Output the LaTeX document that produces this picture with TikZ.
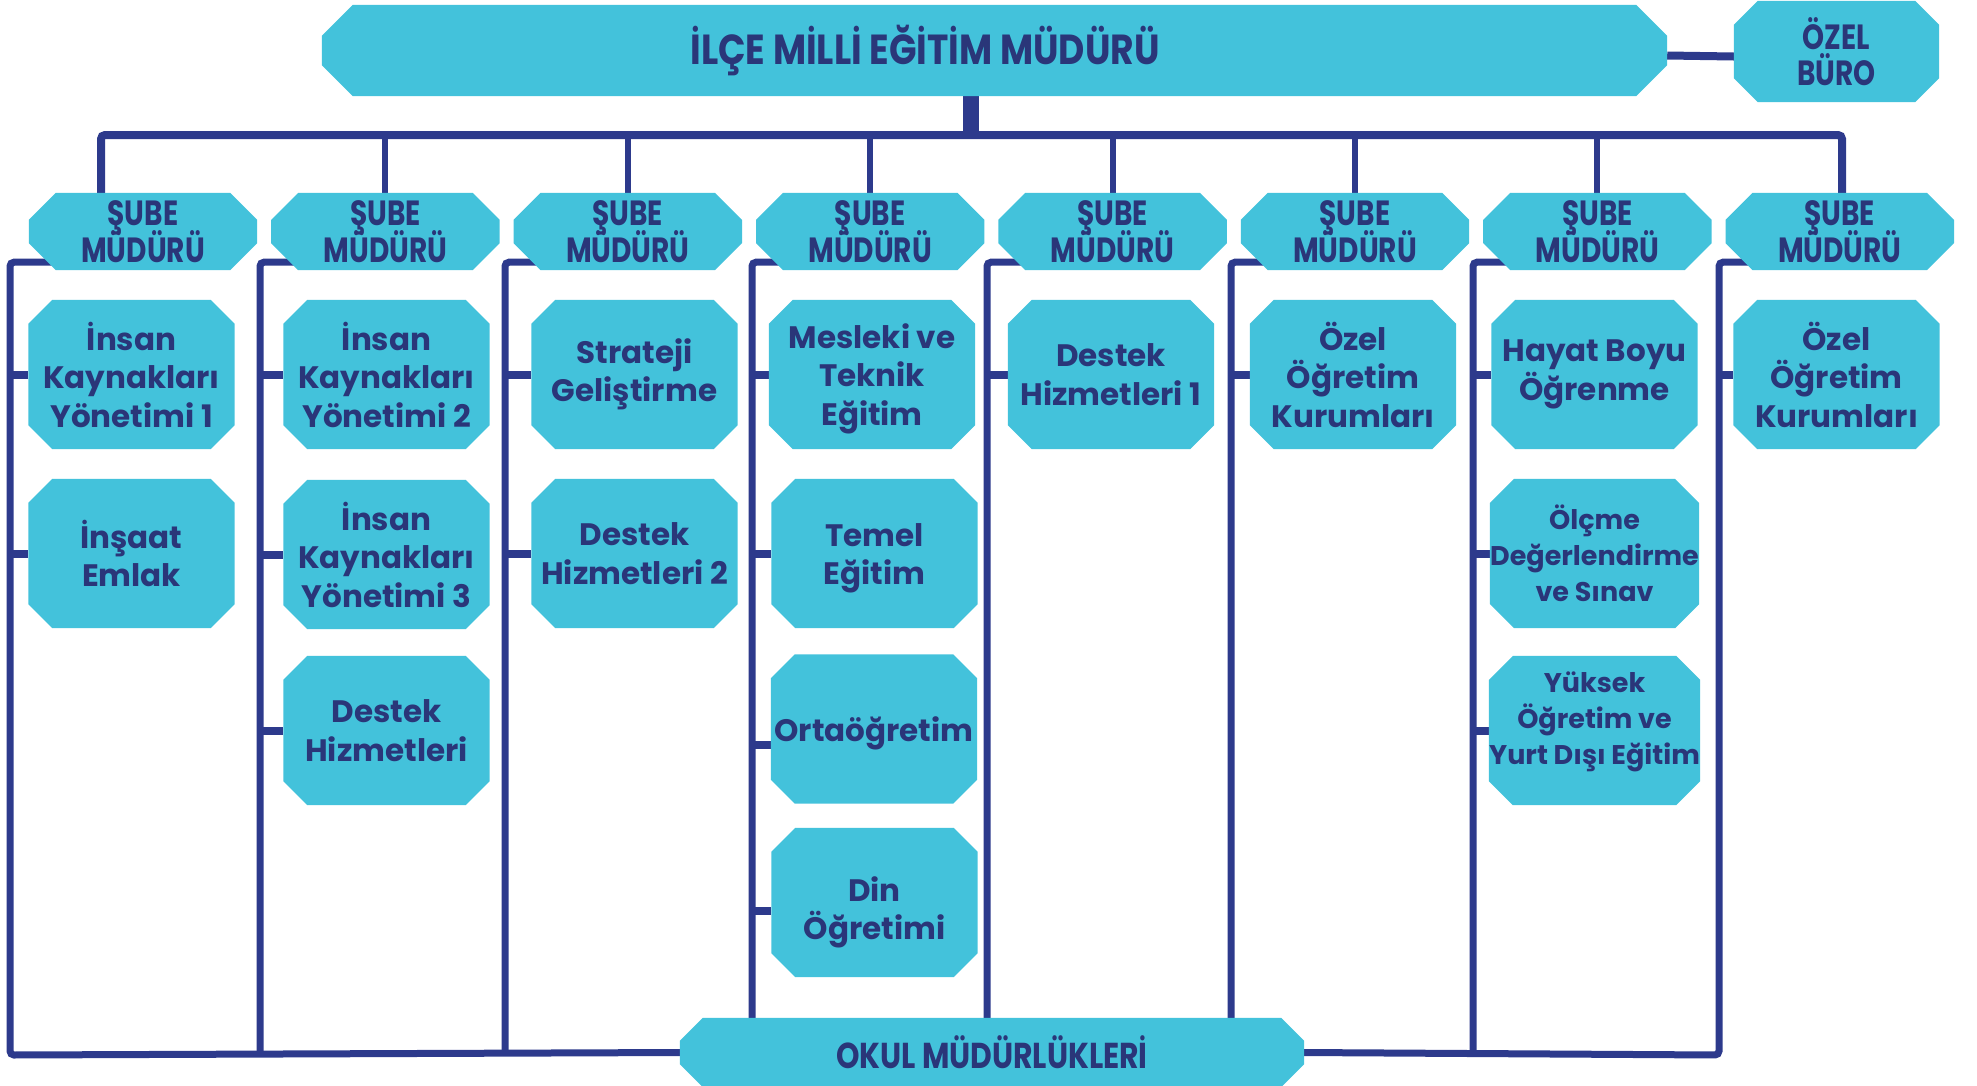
\documentclass[tikz,border=0pt]{standalone}
\usepackage{fontspec}
\setmainfont{Poppins}
\newfontfamily\condf[FakeStretch=0.80]{Poppins}
\newfontfamily\condt[FakeStretch=0.86]{Poppins}
\newfontfamily\condg[FakeStretch=0.83]{Poppins}
\newcommand\subefont{\condf\fontsize{35}{36.5}\selectfont\bfseries\lineskiplimit=-50pt\relax\lineskip=0pt\relax}
\usetikzlibrary{calc}
\definecolor{boxfill}{HTML}{43C2DB}
\definecolor{linec}{HTML}{2D3A8C}
\definecolor{txtc}{HTML}{2A3679}
\pgfdeclarelayer{lines}
\pgfdeclarelayer{boxes}
\pgfsetlayers{lines,boxes,main}
\newcommand\octa[2]{\fill[boxfill] ([xshift=#2]#1.north west) -- ([xshift=-#2]#1.north east) -- ([yshift=-#2]#1.north east) -- ([yshift=#2]#1.south east) -- ([xshift=-#2]#1.south east) -- ([xshift=#2]#1.south west) -- ([yshift=#2]#1.south west) -- ([yshift=-#2]#1.north west) -- cycle;}
\begin{document}
\begin{tikzpicture}[x=1pt,y=-1pt,
  base/.style={rectangle, inner sep=0pt, align=center, text=txtc},
  subfont/.style={font=\fontsize{31}{38.5}\selectfont\bfseries},
  sub/.style={base, minimum width=206pt, minimum height=149pt, subfont},
  subsmall/.style={sub, font=\fontsize{27}{36}\selectfont\bfseries},
  subtext/.style={base, subfont},
  sube/.style={base, minimum width=228pt, minimum height=77pt, font=\subefont},
  conn/.style={draw=linec, line width=7pt, rounded corners=4pt},
  stub/.style={draw=linec, line width=8pt},
  drop/.style={draw=linec, line width=6pt},
  bus/.style={draw=linec, line width=8pt, rounded corners=4pt}]
\useasboundingbox (0,0) rectangle (1977,1085);
% top
\node[base, minimum width=1345pt, minimum height=91pt, font=\condt\fontsize{42}{48}\selectfont\bfseries] (mudur) at (994.5,50.5) {\hspace*{-69.5pt}İLÇE MİLLİ EĞİTİM MÜDÜRÜ\hspace*{69.5pt}};
\node[sube, minimum width=205pt, minimum height=101pt] (ozel) at (1836.5,51.5) {ÖZEL\\BÜRO};
% sube
\node[sube] (s1) at (143,231.5) {ŞUBE\\MÜDÜRÜ};
\node[sube] (s2) at (385.4,231.5) {ŞUBE\\MÜDÜRÜ};
\node[sube] (s3) at (627.8,231.5) {ŞUBE\\MÜDÜRÜ};
\node[sube] (s4) at (870.2,231.5) {ŞUBE\\MÜDÜRÜ};
\node[sube] (s5) at (1112.6,231.5) {ŞUBE\\MÜDÜRÜ};
\node[sube] (s6) at (1355,231.5) {ŞUBE\\MÜDÜRÜ};
\node[sube] (s7) at (1597.4,231.5) {ŞUBE\\MÜDÜRÜ};
\node[sube] (s8) at (1839.8,231.5) {ŞUBE\\MÜDÜRÜ};
% units
\node[sub] (a1) at (131.5,374.5) {İnsan\\Kaynakları\\Yönetimi 1};
\node[sub] (a2) at (131.5,553.5) {İnşaat\\Emlak};
\node[sub] (b1) at (386.5,374.5) {İnsan\\Kaynakları\\Yönetimi 2};
\node[sub] (b2) at (386.5,554.5) {İnsan\\Kaynakları\\Yönetimi 3};
\node[sub] (b3) at (386.5,730.5) {Destek\\Hizmetleri};
\node[sub] (c1) at (634.5,374.5) {Strateji\\Geliştirme};
\node[sub] (c2) at (634.5,553.5) {Destek\\Hizmetleri 2};
\node[sub] (d1) at (872,374.5) {};
\node[sub] (d2) at (874.5,553.5) {};
\node[sub] (d3) at (874,729) {};
\node[sub] (d4) at (874.5,902.5) {};
\node[subtext] (d1t) at ([yshift=-4pt]d1.center) {Mesleki ve\\Teknik\\Eğitim};
\node[subtext] (d2t) at ([yshift=-5pt]d2.center) {Temel\\Eğitim};
\node[subtext] (d3t) at ([yshift=-4pt]d3.center) {Ortaöğretim};
\node[subtext] (d4t) at ([yshift=-10pt]d4.center) {Din\\Öğretimi};
\node[sub] (e1) at (1111,374.5) {Destek\\Hizmetleri 1};
\node[sub] (f1) at (1353,374.5) {Özel\\Öğretim\\Kurumları};
\node[sub] (g1) at (1594.5,374.5) {Hayat Boyu\\Öğrenme};
\node[subsmall] (g2) at (1594.5,553.5) {Ölçme\\Değerlendirme\\ve Sınav};
\node[subsmall, text depth=25pt] (g3) at (1594.5,730.5) {Yüksek\\Öğretim ve\\Yurt Dışı Eğitim};
\node[sub] (h1) at (1836.5,374.5) {Özel\\Öğretim\\Kurumları};
% bottom
\node[base, minimum width=624pt, minimum height=69pt, font=\condg\fontsize{36}{40}\selectfont\bfseries] (okul) at (992,1052.5) {OKUL MÜDÜRLÜKLERİ};
% coordinates
\coordinate (busL) at (101,135);
\coordinate (busR) at (1842,135);
\coordinate (q1) at (10,1055);
\coordinate (q2) at (260,1055);
\coordinate (q3) at (505,1055);
\coordinate (q4) at (752,1055);
\coordinate (q5) at (987,1055);
\coordinate (q6) at (1231,1055);
\coordinate (q7) at (1473,1055);
\coordinate (q8) at (1719,1055);
% fills
\begin{pgfonlayer}{boxes}
\octa{mudur}{31pt}
\octa{ozel}{24pt}
\foreach \n in {s1,s2,s3,s4,s5,s6,s7,s8} {\octa{\n}{27pt}}
\foreach \n in {a1,a2,b1,b2,b3,c1,c2,d1,d2,d3,d4,e1,f1,g1,g2,g3,h1} {\octa{\n}{24pt}}
\octa{okul}{23pt}
\end{pgfonlayer}
% lines
\begin{pgfonlayer}{lines}
\draw[stub] ([yshift=-5pt]mudur.east) -- ([yshift=-5pt]ozel.west);
\draw[draw=linec, line width=16pt] ([xshift=-24pt]mudur.south) -- ([xshift=-24pt]mudur.south |- busL);
\draw[bus] (s1.north -| busL) -- (busL) -- (busR) -- (s8.north -| busR);
\foreach \n in {s2,s3,s4,s5,s6,s7} {\draw[drop] (\n.north) -- (\n.north |- busL);}
% columns
\draw[conn] ([yshift=8pt]s1.south) -| (q1) -- (okul.west);
\draw[conn] ([yshift=8pt]s2.south) -| (q2);
\draw[conn] ([yshift=8pt]s3.south) -| (q3);
\draw[conn] ([yshift=8pt]s4.south) -| (q4 |- okul.north);
\draw[conn] ([yshift=8pt]s5.south) -| (q5 |- okul.north);
\draw[conn] ([yshift=8pt]s6.south) -| (q6 |- okul.north);
\draw[conn] ([yshift=8pt]s7.south) -| (q7);
\draw[conn] ([yshift=8pt]s8.south) -| (q8) -- (okul.east);
% stubs
\foreach \n in {a1,a2} {\draw[stub] (\n.west) -- (\n.west -| q1);}
\foreach \n in {b1,b2,b3} {\draw[stub] (\n.west) -- (\n.west -| q2);}
\foreach \n in {c1,c2} {\draw[stub] (\n.west) -- (\n.west -| q3);}
\foreach \n in {d1,d2} {\draw[stub] (\n.west) -- (\n.west -| q4);}
\draw[stub] ([yshift=-16pt]d3.west) -- ([yshift=-16pt]d3.west -| q4);
\draw[stub] ([yshift=-8pt]d4.west) -- ([yshift=-8pt]d4.west -| q4);
\draw[stub] (e1.west) -- (e1.west -| q5);
\draw[stub] (f1.west) -- (f1.west -| q6);
\foreach \n in {g1,g2,g3} {\draw[stub] (\n.west) -- (\n.west -| q7);}
\draw[stub] (h1.west) -- (h1.west -| q8);
\end{pgfonlayer}
\end{tikzpicture}
\end{document}
